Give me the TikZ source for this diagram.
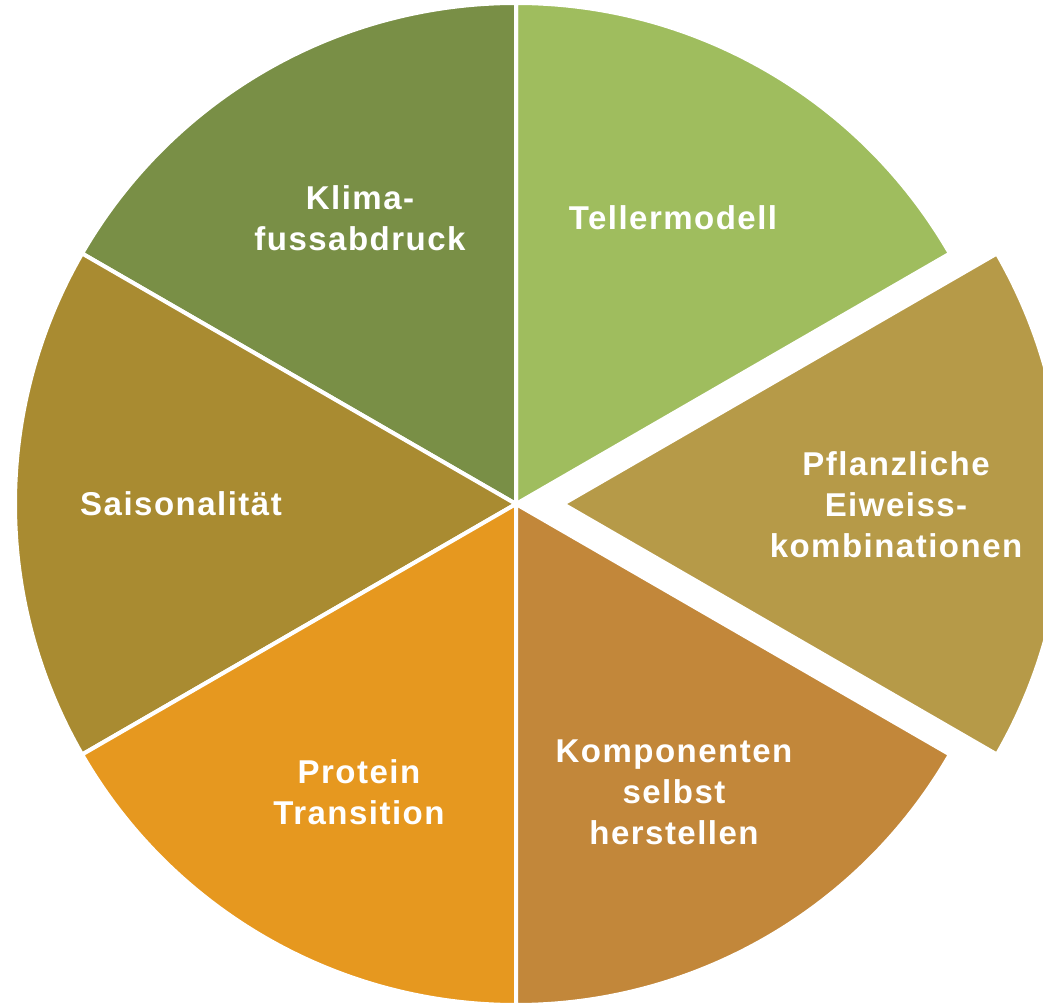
\documentclass[tikz,border=0pt]{standalone}
\usepackage{fontspec}
\newfontfamily\lblfont{Liberation Sans}[LetterSpace=4.5]
\definecolor{cTeller}{HTML}{9FBD5E}
\definecolor{cKlima}{HTML}{798F46}
\definecolor{cSaison}{HTML}{A98B31}
\definecolor{cProtein}{HTML}{E6981F}
\definecolor{cKomp}{HTML}{C2873A}
\definecolor{cEiweiss}{HTML}{B69A48}
\tikzset{
  slice/.style={fill=#1, draw=white, line width=4pt, line join=miter},
  lbl/.style={text=white, font=\lblfont\bfseries\fontsize{33}{41}\selectfont, align=center, inner sep=0pt}
}
\newcommand{\pieslice}[4]{% colour, start angle, end angle, centre
  \path[slice=#1] (#4) -- ++(#2:501) arc[start angle=#2, end angle=#3, radius=501] -- cycle;}
\begin{document}
\begin{tikzpicture}[x=1pt,y=1pt]
\useasboundingbox (0,0) rectangle (1043,1002);
\clip (0,0) rectangle (1043,1002);
\coordinate (c) at (516,498);
\coordinate (cx) at (563,498);
% pie sectors, 60 degrees each
\pieslice{cTeller}{30}{90}{c}
\pieslice{cKlima}{90}{150}{c}
\pieslice{cSaison}{150}{210}{c}
\pieslice{cProtein}{210}{270}{c}
\pieslice{cKomp}{270}{330}{c}
% exploded sector
\pieslice{cEiweiss}{-30}{30}{cx}
% labels
\node[lbl] (teller) at (673,784) {Tellermodell};
\node[lbl] (klima) at (360,784) {Klima-\\fussabdruck};
\node[lbl] (saison) at (181,498) {Saisonalität};
\node[lbl] (protein) at (359,210) {Protein\\Transition};
\node[lbl] (komp) at (674,210) {Komponenten\\selbst\\herstellen};
\node[lbl] (eiweiss) at (896,497) {Pflanzliche\\Eiweiss-\\kombinationen};
\end{tikzpicture}
\end{document}
